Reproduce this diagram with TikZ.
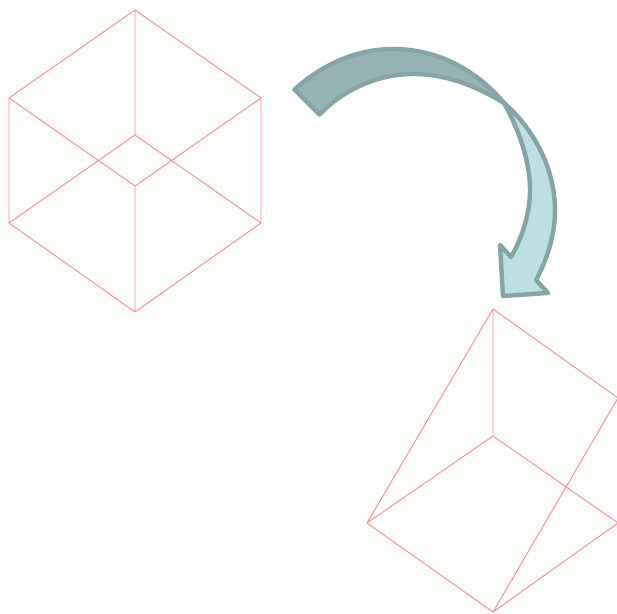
\documentclass[tikz,border=0pt]{standalone}
\definecolor{panelbg}{HTML}{FCFEFC}
\definecolor{wire}{HTML}{FF8E8E}
\definecolor{arrowline}{HTML}{86A3A6}
\definecolor{arrowdark}{HTML}{95B3B5}
\definecolor{arrowlight}{HTML}{BAE0E3}
\tikzset{
  panel/.style={fill=panelbg,draw=none},
  edgeline/.style={draw=wire,line width=0.95pt},
  arrowpart/.style={draw=arrowline,line width=4.4pt,line join=round,line cap=round}
}
\begin{document}
\begin{tikzpicture}[x=1pt,y=-1pt]
\useasboundingbox (0,0) rectangle (617,613);
\fill[panel] (1,8) rectangle (266,316);
\fill[panel] (362,306) rectangle (617,613);
% first cube
\coordinate (top) at (135,10);
\coordinate (ul) at (9,98);
\coordinate (ur) at (261,98);
\coordinate (ll) at (9,223);
\coordinate (lr) at (261,223);
\coordinate (bot) at (135,312);
\coordinate (back) at (135,135);
\coordinate (front) at (135,186);
\draw[edgeline] (top)--(ul) (top)--(ur) (top)--(back) (ul)--(ll) (ur)--(lr)
  (ul)--(front) (ur)--(front) (back)--(ll) (back)--(lr) (ll)--(bot) (lr)--(bot) (front)--(bot);
% second shape
\coordinate (t2) at (493,309);
\coordinate (r2) at (618,398);
\coordinate (c2) at (493,436);
\coordinate (l2) at (367,523);
\coordinate (lr2) at (618,523);
\coordinate (b2) at (493,612);
\draw[edgeline] (t2)--(l2) (t2)--(r2) (t2)--(c2) (c2)--(l2) (c2)--(lr2) (l2)--(b2) (b2)--(lr2) (b2)--(r2);
% curved arrow
\coordinate (a1) at (294.5,89.5);
\coordinate (a2) at (319.5,114.5);
\coordinate (x) at (504,103);
\coordinate (o1) at (555,210);
\coordinate (h1) at (536,280);
\coordinate (h2) at (548,293);
\coordinate (h3) at (503,296);
\coordinate (h4) at (500,245);
\coordinate (h5) at (511,257);
\coordinate (i1) at (530,190);
\fill[arrowlight] (x) .. controls (535,130) and (555,170) .. (o1)
  .. controls (555,235) and (547,260) .. (h1) -- (h2) -- (h3) -- (h4) -- (h5)
  .. controls (523,236) and (530,212) .. (i1) .. controls (530,160) and (518,128) .. (x) -- cycle;
\draw[arrowpart] (x) .. controls (535,130) and (555,170) .. (o1)
  .. controls (555,235) and (547,260) .. (h1) -- (h2) -- (h3) -- (h4) -- (h5)
  .. controls (523,236) and (530,212) .. (i1) .. controls (530,160) and (518,128) .. (x);
\draw[arrowpart,fill=arrowdark] (a1) .. controls (325,62) and (360,49) .. (393,49)
  .. controls (440,49) and (478,72) .. (x)
  .. controls (478,87) and (447,74) .. (413,74)
  .. controls (380,74) and (345,88) .. (a2) -- cycle;
\end{tikzpicture}
\end{document}
